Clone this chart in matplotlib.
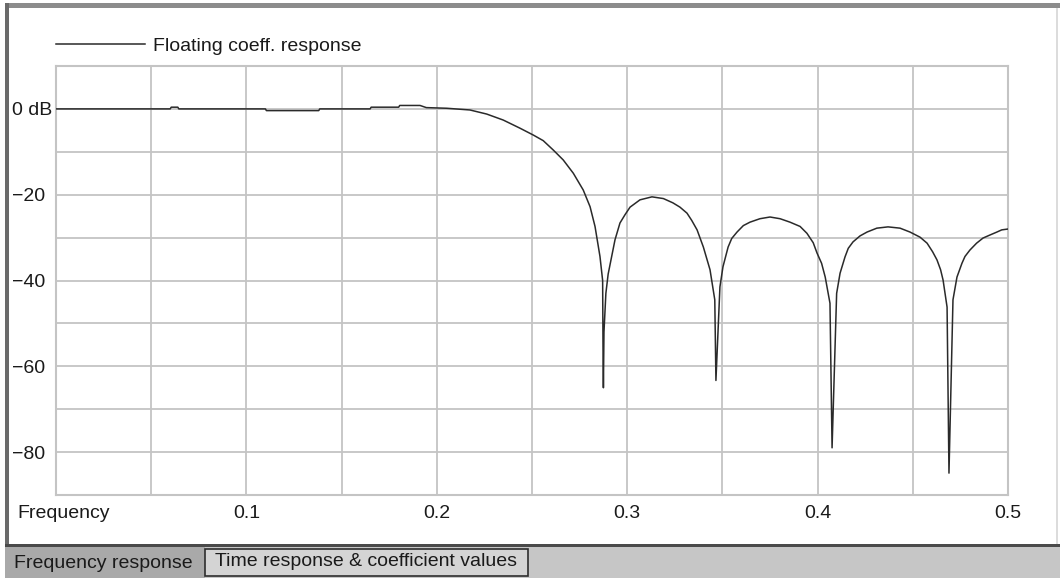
import matplotlib
matplotlib.use("Agg")
import matplotlib.pyplot as plt
from matplotlib.patches import Rectangle

plt.rcParams['font.family'] = ['Liberation Sans', 'DejaVu Sans']

# ---- data ----
freq = [0.0, 0.05, 0.060, 0.0605, 0.064, 0.0645, 0.110, 0.1105, 0.138, 0.1385,
        0.165, 0.1655, 0.180, 0.1805, 0.1912, 0.1945, 0.2052, 0.2174,
        0.2262, 0.2349, 0.2437, 0.2507, 0.2559, 0.2612, 0.2664, 0.2717,
        0.2769, 0.2805, 0.2831, 0.2857, 0.2871, 0.2873, 0.2875, 0.2878,
        0.2888, 0.2900, 0.2936, 0.2962, 0.2988, 0.3015, 0.3067, 0.313,
        0.319, 0.324, 0.3277, 0.3314, 0.3339, 0.3367, 0.340, 0.3435, 0.3460,
        0.3466,
        0.3487, 0.3503, 0.353, 0.3549, 0.3577, 0.361, 0.3645, 0.3697, 0.375,
        0.3803, 0.3855, 0.3908, 0.3944, 0.3977, 0.3997, 0.4021, 0.404, 0.4065,
        0.4076,
        0.4100, 0.4118, 0.4144, 0.4161, 0.4186, 0.4223, 0.426, 0.4311, 0.437,
        0.4433, 0.4485, 0.4538, 0.4575, 0.4604, 0.4627, 0.4646, 0.4659,
        0.4680, 0.4690,
        0.4711, 0.4732, 0.4758, 0.4774, 0.480, 0.4835, 0.4869, 0.4905,
        0.4942, 0.4967, 0.500]
response_db = [0.0, 0.0, 0.0, 0.4, 0.4, 0.0, 0.0, -0.4, -0.4, 0.0,
               0.0, 0.4, 0.4, 0.8, 0.8, 0.3, 0.15, -0.25,
               -1.2, -2.6, -4.5, -6.1, -7.4, -9.6, -11.9, -15.0,
               -18.9, -22.8, -27.4, -34.4, -40.0, -56.0, -65.0, -52.0,
               -43.0, -38.5, -30.5, -26.6, -24.7, -22.9, -21.2, -20.5,
               -20.9, -21.9, -22.9, -24.3, -26.0, -28.2, -32.2, -37.5, -44.5,
               -63.3,
               -41.5, -36.8, -32.2, -30.2, -28.7, -27.2, -26.4, -25.6, -25.2,
               -25.6, -26.4, -27.4, -29.0, -31.2, -33.6, -36.0, -39.2, -45.3,
               -79.0,
               -43.0, -38.3, -34.5, -32.5, -31.0, -29.6, -28.7, -27.8, -27.5,
               -27.8, -28.7, -29.9, -31.3, -33.3, -35.2, -37.5, -39.9,
               -46.2, -84.9,
               -44.5, -39.2, -36.0, -34.4, -32.9, -31.3, -30.1, -29.4,
               -28.7, -28.2, -28.0]

series_label = "Floating coeff. response"
x_ticks = [0.1, 0.2, 0.3, 0.4, 0.5]
x_tick_labels = ["0.1", "0.2", "0.3", "0.4", "0.5"]
y_ticks = [0, -20, -40, -60, -80]
y_tick_labels = ["0 dB", "\u221220", "\u221240", "\u221260", "\u221280"]
tab_labels = ["Frequency response", "Time response & coefficient values"]

FS = 14
W, H = 1060, 578
fig = plt.figure(figsize=(W / 100, H / 100), dpi=100)
fig.patch.set_facecolor('white')


def frect(x0, y0, x1, y1, **kw):
    fig.add_artist(Rectangle((x0 / W, 1 - y1 / H), (x1 - x0) / W, (y1 - y0) / H,
                             transform=fig.transFigure, **kw))


# window frame decorations
frect(5, 3, 1060, 8, facecolor='#8c8c8c', edgecolor='none')
frect(5, 3, 8.5, 547, facecolor='#6a6a6a', edgecolor='none')
frect(1055.5, 8, 1057.5, 545, facecolor='#dcdcdc', edgecolor='none')
frect(5, 545, 1060, 578, facecolor='#c6c6c6', edgecolor='none')
frect(5, 544, 1060, 547, facecolor='#4a4a4a', edgecolor='none')
frect(5, 547, 205, 578, facecolor='#a9a9a9', edgecolor='none')
frect(205, 548.5, 528, 576, facecolor='#d4d4d4', edgecolor='#2e2e2e', linewidth=1.2)
fig.text(14 / W, 1 - 563.5 / H, tab_labels[0], ha='left', va='center',
         fontsize=FS, color='#1a1a1a')
fig.text(215 / W, 1 - 562 / H, tab_labels[1], ha='left', va='center',
         fontsize=FS, color='#1a1a1a')

# plot axes
ax = fig.add_axes([56 / W, 1 - 495 / H, 952 / W, 429 / H])
ax.set_facecolor('white')
ax.plot(freq, response_db, color='#2a2a2a', linewidth=1.1, label=series_label,
        zorder=3)
ax.set_xlim(0, 0.5)
ax.set_ylim(-90, 10)

ax.set_xticks(x_ticks, x_tick_labels)
ax.set_xticks([0.05, 0.15, 0.25, 0.35, 0.45], minor=True)
ax.set_yticks(y_ticks, y_tick_labels)
ax.set_yticks([-10, -30, -50, -70], minor=True)
ax.grid(True, which='both', color='#c4c4c4', linewidth=1.3, zorder=1)
ax.set_axisbelow(True)
for s in ax.spines.values():
    s.set_color('#c4c4c4')
    s.set_linewidth(1.5)

ax.tick_params(axis='both', which='both', length=0, labelsize=FS,
               labelcolor='#1a1a1a')
ax.tick_params(axis='x', pad=7.5)
ax.tick_params(axis='y', pad=44 * 0.72)
for lbl in ax.get_yticklabels():
    lbl.set_ha('left')

ax.set_xlabel("Frequency", fontsize=FS, color='#1a1a1a')
ax.xaxis.label.set_ha('left')
ax.xaxis.set_label_coords(-39 / 952, -9.5 / 429)
ax.xaxis.label.set_va('top')

ax.legend(loc='center left', bbox_to_anchor=(0.0, 1 + 20 / 429), frameon=False,
          handlelength=4.6, handletextpad=0.4, borderpad=0, borderaxespad=0,
          fontsize=FS, labelcolor='#1a1a1a')

fig.savefig('out.png', dpi=100)
